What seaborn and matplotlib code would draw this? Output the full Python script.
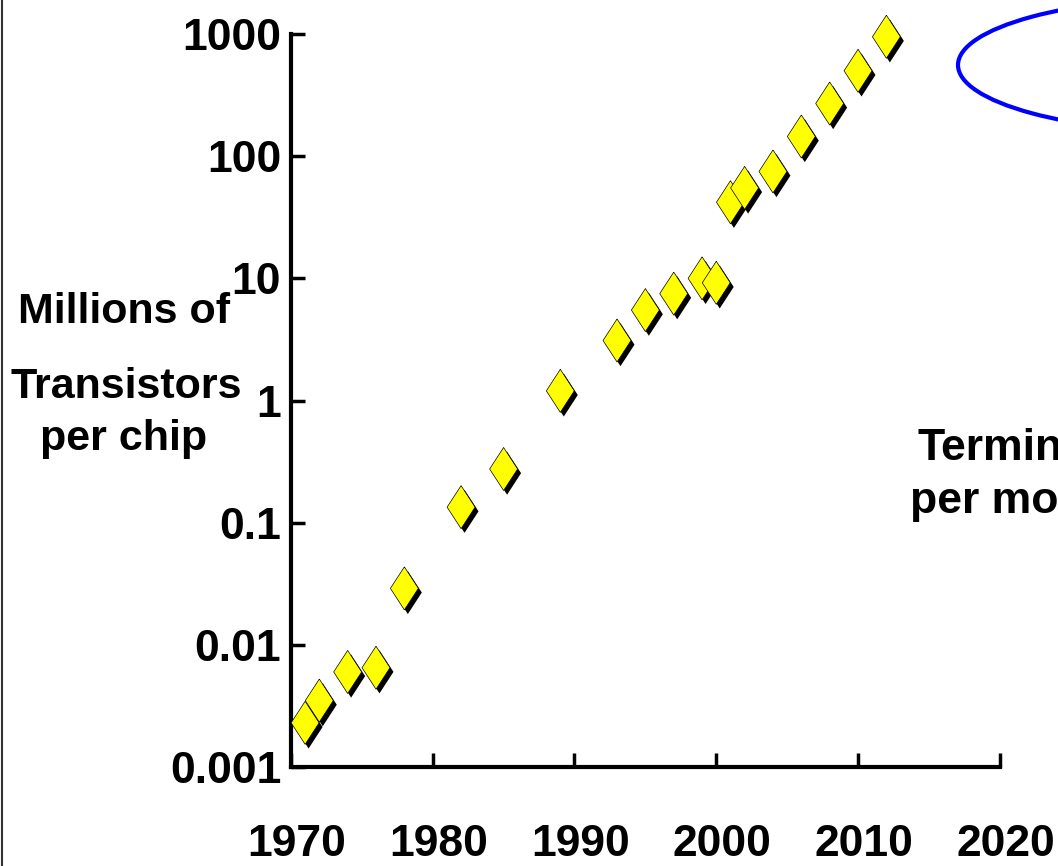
import numpy as np
import seaborn as sns
import pandas as pd
import matplotlib.pyplot as plt
import matplotlib.patheffects as pe
import matplotlib.transforms as mtransforms
from matplotlib.patches import Ellipse
from matplotlib.lines import Line2D

# transistor counts (millions)
years = [1971, 1972, 1974, 1976, 1978, 1982, 1985, 1989, 1993, 1995,
         1997, 1999, 2000, 2001, 2002, 2004, 2006, 2008, 2010, 2012]
transistors = [0.0023, 0.0035, 0.006, 0.0065, 0.029, 0.134, 0.275, 1.2, 3.1, 5.5,
               7.5, 10, 9.2, 42, 55, 75, 145, 270, 500, 950]

x_ticks = [1970, 1980, 1990, 2000, 2010, 2020]
y_ticks = [0.001, 0.01, 0.1, 1, 10, 100, 1000]
y_tick_labels = ['0.001', '0.01', '0.1', '1', '10', '100', '1000']

df = pd.DataFrame({'Year': years, 'Transistors': transistors})

sns.set_style('white')
plt.rcParams['font.family'] = ['Liberation Sans', 'DejaVu Sans']
plt.rcParams['font.weight'] = 'bold'
plt.rcParams['text.color'] = 'black'

fig = plt.figure(figsize=(10.58, 8.66), dpi=100)
ax = fig.add_axes([0.275, 0.1143, 0.67, 0.8464])

# tall diamond like the slide's marker
diamond = [(0, 1), (0.65, 0), (0, -1), (-0.65, 0), (0, 1)]
sns.scatterplot(data=df, x='Year', y='Transistors', marker=diamond, s=960,
                color='#ffff00', edgecolor='black', linewidth=0.5, ax=ax, zorder=3)
for coll in ax.collections:
    coll.set_path_effects([pe.SimplePatchShadow(offset=(2.5, -3), shadow_rgbFace='black', alpha=1.0),
                           pe.Normal()])
    coll.set_clip_on(False)

ax.set_yscale('log')
ax.set_xlim(1970, 2020)
ax.set_ylim(0.001, 1000)
ax.set_xticks(x_ticks)
ax.set_xticklabels([str(x) for x in x_ticks])
ax.set_yticks(y_ticks)
ax.set_yticklabels(y_tick_labels)
ax.minorticks_off()
ax.tick_params(axis='both', direction='in', length=10, width=2.5, labelsize=32,
               colors='black', bottom=True, left=True)
ax.tick_params(axis='x', pad=41)
ax.tick_params(axis='y', pad=7)
shift = mtransforms.ScaledTranslation(6 / 100, 0, fig.dpi_scale_trans)
for lab in ax.get_xticklabels():
    lab.set_fontweight('bold')
    lab.set_transform(lab.get_transform() + shift)
for lab in ax.get_yticklabels():
    lab.set_fontweight('bold')

for side in ['top', 'right']:
    ax.spines[side].set_visible(False)
for side in ['left', 'bottom']:
    ax.spines[side].set_linewidth(3)
    ax.spines[side].set_color('black')
ax.set_xlabel('')
ax.set_ylabel('')

# y label as three stacked lines
fig.text(124 / 1058, 1 - 323 / 866, 'Millions of', ha='center', va='baseline', fontsize=31, fontweight='bold', color='black')
fig.text(126 / 1058, 1 - 398 / 866, 'Transistors', ha='center', va='baseline', fontsize=31, fontweight='bold', color='black')
fig.text(124 / 1058, 1 - 450 / 866, 'per chip', ha='center', va='baseline', fontsize=31, fontweight='bold', color='black')

# cut-off text and ellipse at the right edge, as on the slide
fig.text(918 / 1058, 1 - 460 / 866, 'Termin', ha='left', va='baseline', fontsize=32, fontweight='bold', color='black')
fig.text(910 / 1058, 1 - 513 / 866, 'per mo', ha='left', va='baseline', fontsize=32, fontweight='bold', color='black')

ell = Ellipse((1208 / 1058, 1 - 65 / 866), 2 * 250 / 1058, 2 * 68 / 866,
              transform=fig.transFigure, fill=False, edgecolor='#0000ff', linewidth=3)
fig.add_artist(ell)

fig.add_artist(Line2D([0.0015, 0.0015], [0, 1], transform=fig.transFigure, color='#333333', linewidth=1.5))

fig.savefig('out.png', dpi=100)
